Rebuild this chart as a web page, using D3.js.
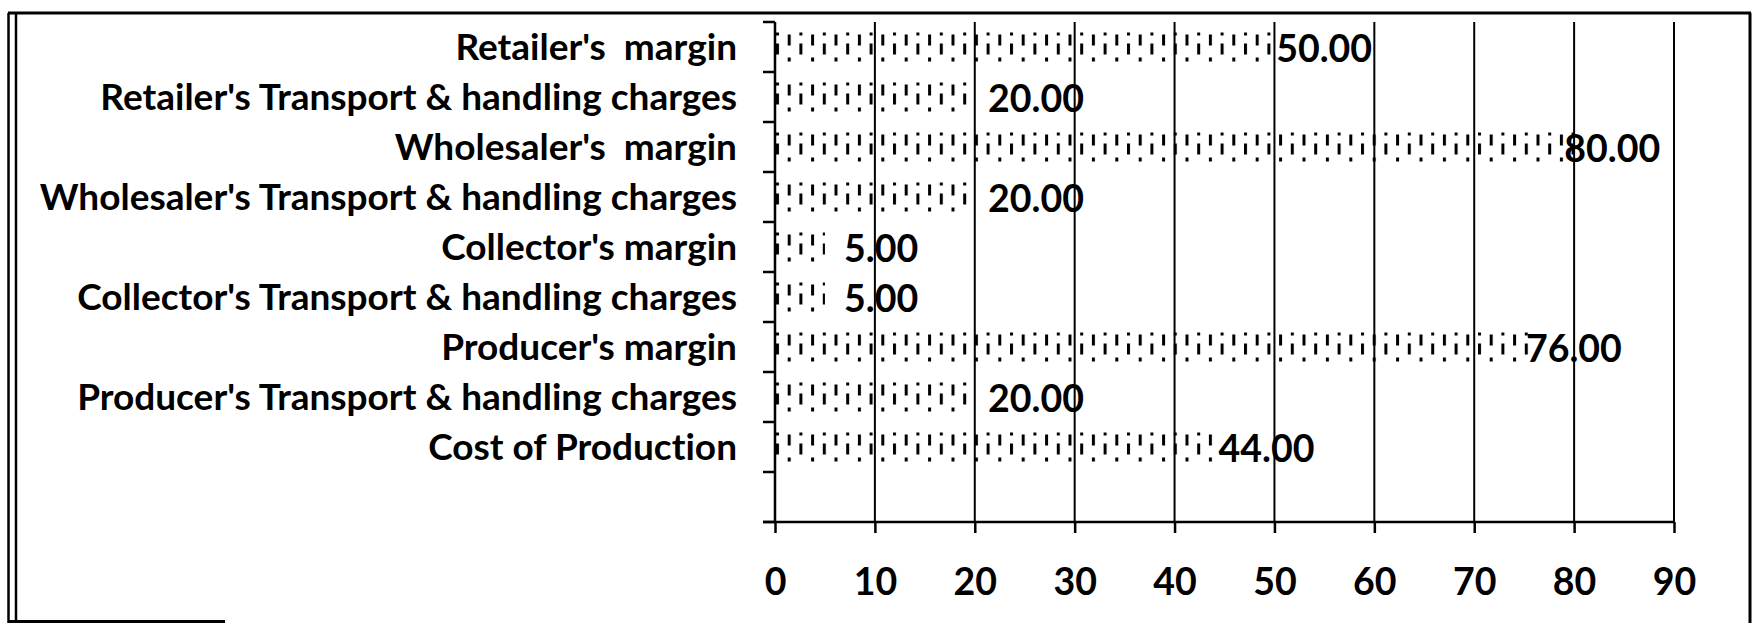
<!DOCTYPE html>
<html>
<head>
<meta charset="utf-8">
<script src="https://cdn.jsdelivr.net/npm/d3@7"></script>
<style>
    body { margin: 0; background: #fff; }
    svg { display: block; }
    text { font-family: Lato, "Open Sans", sans-serif; font-weight: 700; fill: #000; white-space: pre; font-variant-ligatures: none; }
</style>
</head>
<body>
<svg id="chart" width="1753" height="623"></svg>
<script>
// categories top to bottom, last slot is left empty like in the source
let categories = [
    "Retailer's  margin",
    "Retailer's Transport & handling charges",
    "Wholesaler's  margin",
    "Wholesaler's Transport & handling charges",
    "Collector's margin",
    "Collector's Transport & handling charges",
    "Producer's margin",
    "Producer's Transport & handling charges",
    "Cost of Production",
    ""
];
let values = [50, 20, 80, 20, 5, 5, 76, 20, 44, null];
let xTicks = [0, 10, 20, 30, 40, 50, 60, 70, 80, 90];

let LABEL_FONT = 37;
let NUM_FONT = 37.5;

let svg = d3.select('#chart');

let x = d3.scaleLinear().domain([0, 90]).range([775, 1674]);
let y = d3.scaleBand().domain(categories).range([22, 522]).paddingInner(0.3).paddingOuter(0.15);
let gap = (y.step() - y.bandwidth()) / 2;

// dotted fill
let defs = svg.append('defs');
let pat = defs.append('pattern')
    .attr('id', 'dots')
    .attr('patternUnits', 'userSpaceOnUse')
    .attr('x', x(0) + 1)
    .attr('y', y(categories[0]))
    .attr('width', 23.4)
    .attr('height', y.step());
[[0, 3, 3], [0, 14, 11], [11.7, 5, 11], [11.7, 28, 4]].forEach(m => {
    pat.append('rect')
        .attr('x', m[0])
        .attr('y', m[1])
        .attr('width', 3)
        .attr('height', m[2])
        .attr('fill', '#000');
});

// outer frame
let frame = svg.append('g').attr('stroke', '#000').attr('fill', 'none');
frame.append('line').attr('x1', 8).attr('y1', 13).attr('x2', 1751).attr('y2', 13).attr('stroke-width', 3);
frame.append('line').attr('x1', 1750).attr('y1', 13).attr('x2', 1750).attr('y2', 623).attr('stroke-width', 3);
frame.append('line').attr('x1', 8.5).attr('y1', 13).attr('x2', 8.5).attr('y2', 623).attr('stroke-width', 2.5);
frame.append('line').attr('x1', 16).attr('y1', 13).attr('x2', 16).attr('y2', 623).attr('stroke-width', 2.5);
frame.append('line').attr('x1', 8).attr('y1', 621.5).attr('x2', 225).attr('y2', 621.5).attr('stroke-width', 3);

// vertical gridlines
svg.append('g')
    .selectAll('line')
    .data(xTicks.slice(1))
    .enter()
    .append('line')
    .attr('x1', d => x(d))
    .attr('x2', d => x(d))
    .attr('y1', y.range()[0])
    .attr('y2', y.range()[1])
    .attr('stroke', '#000')
    .attr('stroke-width', 2);

// bars
svg.append('g')
    .selectAll('rect')
    .data(categories.filter((c, i) => values[i] !== null))
    .enter()
    .append('rect')
    .attr('x', x(0))
    .attr('y', d => y(d))
    .attr('width', d => x(values[categories.indexOf(d)]) - x(0))
    .attr('height', y.bandwidth())
    .attr('fill', 'url(#dots)');

// x axis
let xAxis = svg.append('g')
    .attr('transform', 'translate(0,' + y.range()[1] + ')')
    .call(d3.axisBottom(x).tickValues(xTicks).tickSize(11).tickSizeOuter(0));
xAxis.select('.domain').attr('stroke', '#000').attr('stroke-width', 2.5)
    .attr('d', 'M' + (x(0) - 12) + ',0H' + x(90));
xAxis.selectAll('.tick line').attr('stroke', '#000').attr('stroke-width', 2.5);
xAxis.selectAll('.tick text')
    .attr('font-size', NUM_FONT)
    .style('font-family', 'Lato, "Open Sans", sans-serif')
    .attr('dy', '0.35em')
    .attr('y', 60);

// y axis: line, ticks on category boundaries, labels
let yAxis = svg.append('g');
yAxis.append('line')
    .attr('x1', x(0)).attr('x2', x(0))
    .attr('y1', y.range()[0]).attr('y2', y.range()[1])
    .attr('stroke', '#000').attr('stroke-width', 2.5);
let bounds = categories.map(c => y(c) - gap).concat([y.range()[1]]);
yAxis.selectAll('.ytick')
    .data(bounds)
    .enter()
    .append('line')
    .attr('class', 'ytick')
    .attr('x1', x(0) - 12).attr('x2', x(0))
    .attr('y1', d => d).attr('y2', d => d)
    .attr('stroke', '#000').attr('stroke-width', 2.5);
yAxis.selectAll('.ylabel')
    .data(categories)
    .enter()
    .append('text')
    .attr('class', 'ylabel')
    .attr('x', x(0) - 38)
    .attr('y', d => y(d) + y.bandwidth() / 2)
    .attr('dy', '0.35em')
    .attr('text-anchor', 'end')
    .attr('font-size', LABEL_FONT)
    .text(d => d);

// value labels, drifting left of the bar end as the value grows (as in the source)
svg.append('g')
    .selectAll('text')
    .data(categories.filter((c, i) => values[i] !== null))
    .enter()
    .append('text')
    .attr('x', d => {
        let v = values[categories.indexOf(d)];
        return x(v) + 21 - 0.385 * v;
    })
    .attr('y', d => y(d) + y.bandwidth() / 2 + 2)
    .attr('dy', '0.35em')
    .attr('font-size', NUM_FONT)
    .text(d => values[categories.indexOf(d)].toFixed(2));
</script>
</body>
</html>
